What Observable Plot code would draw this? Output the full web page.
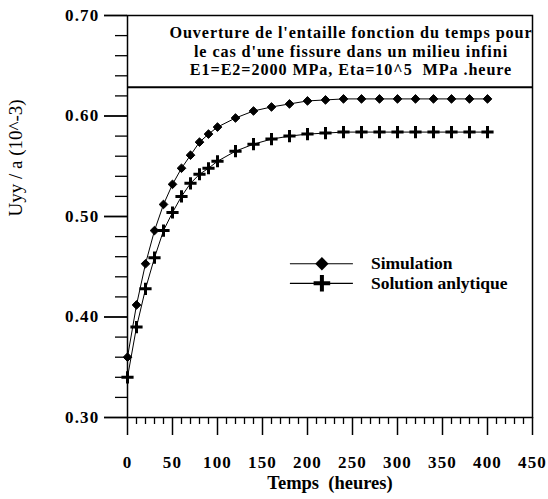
<!DOCTYPE html>
<html>
<head>
<meta charset="utf-8">
<script src="https://cdn.jsdelivr.net/npm/d3@7"></script>
<script src="https://cdn.jsdelivr.net/npm/@observablehq/plot@0.6"></script>
<style>
  html, body { margin: 0; padding: 0; background: #fff; }
  #chart svg { display: block; }
  #chart g[aria-label$="tick label"] text { letter-spacing: 1.2px; }
</style>
</head>
<body>
<div id="chart"></div>
<script>
// Time (hours) at which the notch opening was evaluated
const temps = [0, 10, 20, 30, 40, 50, 60, 70, 80, 90, 100, 120, 140, 160, 180, 200,
               220, 240, 260, 280, 300, 320, 340, 360, 380, 400];

// Uyy / a (10^-3), numerical simulation
const simulation = [0.360, 0.412, 0.453, 0.486, 0.512, 0.532, 0.548, 0.561, 0.574, 0.582,
                    0.589, 0.598, 0.605, 0.609, 0.612, 0.615, 0.616, 0.617, 0.617, 0.617,
                    0.617, 0.617, 0.617, 0.617, 0.617, 0.617];

// Uyy / a (10^-3), analytical solution
const analytique = [0.340, 0.390, 0.428, 0.459, 0.486, 0.504, 0.520, 0.533, 0.542, 0.548,
                    0.555, 0.565, 0.572, 0.577, 0.580, 0.582, 0.583, 0.584, 0.584, 0.584,
                    0.584, 0.584, 0.584, 0.584, 0.584, 0.584];

const seriesNames = ["Simulation", "Solution anlytique"];

// Axis ticks
const xTicks = [0, 50, 100, 150, 200, 250, 300, 350, 400, 450];
const xMinorTicks = d3.range(0, 451, 10).filter(v => v % 50 !== 0);
const yTicks = [0.30, 0.40, 0.50, 0.60, 0.70];
const yMinorTicks = d3.range(30, 71, 2).filter(v => v % 10 !== 0).map(v => v / 100);

const xTitle = "Temps  (heures)";
const yTitle = "Uyy / a (10^-3)";
const boxTitle = "Ouverture de l'entaille fonction du temps pour\nle cas d'une fissure dans un milieu infini\nE1=E2=2000 MPa, Eta=10^5  MPa .heure";

// lower edge of the title box, in y units
const titleBoxBottom = 0.6285;
// legend anchor, in data units
const legendX = 216;
const legendY = [0.453, 0.4335];

const sim = temps.map((t, i) => ({t, v: simulation[i]}));
const ana = temps.map((t, i) => ({t, v: analytique[i]}));
const legend = seriesNames.map((name, i) => ({name, i, y: legendY[i]}));

const serif = "'Liberation Serif', 'Times New Roman', serif";

const chart = Plot.plot({
  width: 548,
  height: 499,
  marginLeft: 127,
  marginRight: 16,
  marginTop: 15,
  marginBottom: 82,
  x: {domain: [0, 450], label: null},
  y: {domain: [0.30, 0.70], label: null},
  style: {fontFamily: serif, fontSize: "17px", fontWeight: "bold", color: "#000", background: "#fff"},
  marks: [
    // axes: long major ticks, short minor ticks
    Plot.axisX({ticks: xMinorTicks, tickSize: 7, text: null, label: null, strokeWidth: 1.3}),
    Plot.axisX({ticks: xTicks, tickSize: 18, tickPadding: 20, tickFormat: d => String(d),
                label: null, strokeWidth: 1.5, fontSize: 17, fontWeight: "bold"}),
    Plot.axisY({ticks: yMinorTicks, tickSize: 12, text: null, label: null, strokeWidth: 1.3}),
    Plot.axisY({ticks: yTicks, tickSize: 23, tickPadding: 5, tickFormat: d3.format(".2f"),
                label: null, strokeWidth: 1.8, fontSize: 17, fontWeight: "bold"}),
    Plot.frame({stroke: "#000", strokeWidth: 1.5}),

    // title box at the top of the frame
    Plot.ruleY([titleBoxBottom], {stroke: "#000", strokeWidth: 2}),
    Plot.text([boxTitle], {frameAnchor: "top", dx: 21, dy: 10, lineHeight: 1.12,
                           fontSize: 16.2, fontWeight: "bold", fill: "#000"}),

    // series
    Plot.line(ana, {x: "t", y: "v", stroke: "#000", strokeWidth: 1}),
    Plot.line(sim, {x: "t", y: "v", stroke: "#000", strokeWidth: 1}),
    Plot.dot(ana, {x: "t", y: "v", symbol: "plus", r: 4, stroke: "#000", strokeWidth: 3}),
    Plot.dot(sim, {x: "t", y: "v", symbol: "diamond2", r: 3.9, fill: "#000", stroke: "#000", strokeWidth: 1}),

    // legend
    Plot.ruleY(legend, {y: "y", x1: legendX - 35, x2: legendX + 35, stroke: "#000", strokeWidth: 1.2}),
    Plot.dot(legend.filter(d => d.i === 0), {x: legendX, y: "y", symbol: "diamond2", r: 6, fill: "#000"}),
    Plot.dot(legend.filter(d => d.i === 1), {x: legendX, y: "y", symbol: "plus", r: 5.4, stroke: "#000", strokeWidth: 4}),
    Plot.text(legend, {x: legendX, y: "y", text: "name", dx: 49, textAnchor: "start",
                       fontSize: 17.5, fontWeight: "bold", fill: "#000"}),

    // axis titles
    Plot.text([xTitle], {frameAnchor: "bottom", dy: 71, fontSize: 18.5, fontWeight: "bold", fill: "#000"}),
    Plot.text([yTitle], {frameAnchor: "left", dx: -112, rotate: -90, fontSize: 19, fontWeight: "normal", fill: "#000"})
  ]
});

// the boxed title is set slightly wider than the default font spacing
d3.select(chart).selectAll("text")
  .filter(function () { return this.textContent.startsWith("Ouverture"); })
  .style("letter-spacing", "0.9px");

document.getElementById("chart").append(chart);
</script>
</body>
</html>
